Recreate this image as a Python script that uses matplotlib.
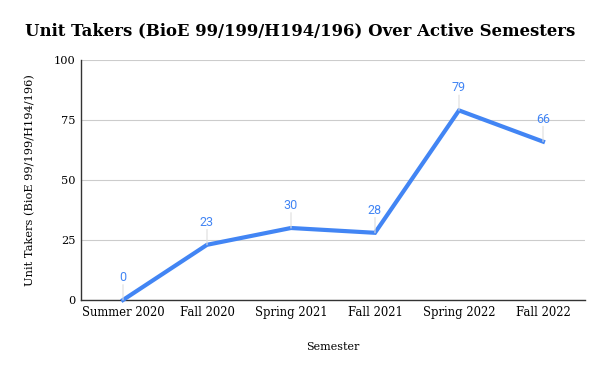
import matplotlib
matplotlib.use("Agg")
import matplotlib.pyplot as plt

semesters = ["Summer 2020", "Fall 2020", "Spring 2021", "Fall 2021", "Spring 2022", "Fall 2022"]
takers = [0, 23, 30, 28, 79, 66]
yticks = [0, 25, 50, 75, 100]

blue = "#4285F4"
serif = "DejaVu Serif"
fig = plt.figure(figsize=(6, 3.71), dpi=100)
ax = fig.add_axes([81/600, 1-300/371, 504/600, 240/371])

x = list(range(len(semesters)))
ax.plot(x, takers, color=blue, lw=3.0, solid_joinstyle="miter", zorder=3, clip_on=False)
for xi, v in zip(x, takers):
    ax.annotate("", xy=(xi, v), xytext=(0, 11), textcoords="offset points",
                xycoords="data",
                arrowprops=dict(arrowstyle="-", color="#dddddd", lw=0.8, shrinkA=0, shrinkB=0))
    ax.annotate(str(v), xy=(xi, v), xytext=(0, 11.5), textcoords="offset points",
                ha="center", va="bottom", color=blue, fontsize=9, family="Roboto")

ax.set_xlim(-0.5, len(semesters) - 0.5)
ax.set_ylim(0, 100)
ax.set_yticks(yticks)
ax.set_xticks(x)
ax.set_xticklabels(semesters, family=serif, fontsize=8.4)
ax.set_yticklabels([str(t) for t in yticks], family=serif, fontsize=8.2)
ax.tick_params(length=0, pad=4)
ax.grid(axis="y", color="#cccccc", lw=0.8)
ax.set_axisbelow(True)
for s in ["top", "right"]:
    ax.spines[s].set_visible(False)
for s in ["left", "bottom"]:
    ax.spines[s].set_color("#333333")
    ax.spines[s].set_linewidth(1.0)

ax.set_xlabel("Semester", family=serif, fontsize=8, labelpad=17)
ax.set_ylabel("Unit Takers (BioE 99/199/H194/196)", family=serif, fontsize=8.2, labelpad=13)
fig.text(0.5, 1-31/371, "Unit Takers (BioE 99/199/H194/196) Over Active Semesters",
         ha="center", va="center", family=serif, weight="bold", fontsize=11.9)

fig.savefig("out.png", dpi=100)
